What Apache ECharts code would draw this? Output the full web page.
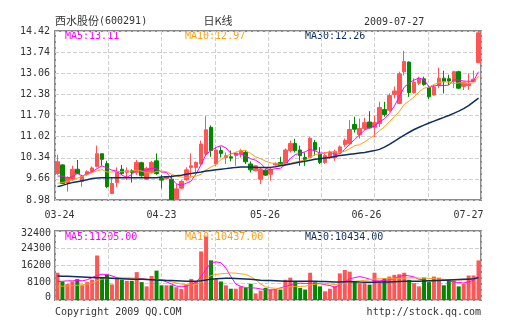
<!DOCTYPE html>
<html><head><meta charset="utf-8">
<script src="https://cdn.jsdelivr.net/npm/echarts@6/dist/echarts.min.js"></script>
<style>html,body{margin:0;padding:0;background:#fff}#c{width:505px;height:330px}</style>
</head><body><div id="c"></div>
<script>
const dates = ['03-24','03-25','03-26','03-27','03-30','03-31',
'04-01','04-02','04-03','04-07','04-08','04-09','04-10','04-13','04-14','04-15','04-16','04-17','04-20','04-21','04-22','04-23','04-24','04-27','04-28','04-29','04-30',
'05-04','05-05','05-06','05-07','05-08','05-11','05-12','05-13','05-14','05-15','05-18','05-19','05-20','05-21','05-22','05-25','05-26','05-27',
'06-01','06-02','06-03','06-04','06-05','06-08','06-09','06-10','06-11','06-12','06-15','06-16','06-17','06-18','06-19','06-22','06-23','06-24','06-25','06-26','06-29','06-30',
'07-01','07-02','07-03','07-06','07-07','07-08','07-09','07-10','07-13','07-14','07-15','07-16','07-17','07-20','07-21','07-22','07-23','07-24','07-27'];
const xTickLabels = ['03-24','04-23','05-26','06-26','07-27'];
const priceTicks = ['8.98','9.66','10.34','11.02','11.70','12.38','13.06','13.74','14.42'];
const priceMin = 8.98, priceMax = 14.42;
const volTicks = [0, 8100, 16200, 24300, 32400];

const opens = [9.83,10.11,9.54,9.65,9.97,9.58,9.81,9.90,10.06,10.47,10.15,9.19,9.54,9.97,9.87,9.92,9.87,10.18,9.65,9.87,10.24,9.67,9.67,9.65,9.02,9.36,9.63,10.03,10.03,10.14,10.46,11.32,10.14,10.57,10.35,10.37,10.41,10.46,10.51,10.14,9.92,9.65,9.94,9.81,10.11,10.19,10.14,10.57,10.80,10.59,10.35,10.35,10.83,10.48,10.19,10.35,10.33,10.50,10.76,10.79,11.41,11.09,11.28,11.49,11.32,11.44,11.89,11.87,12.38,12.09,13.11,13.42,12.44,12.74,12.88,12.60,12.36,12.66,12.90,12.88,12.79,13.11,12.63,12.66,12.79,13.41];
const closes = [10.21,9.51,9.70,9.97,9.83,9.75,9.89,10.01,10.47,10.29,9.41,9.51,9.87,9.83,9.92,9.87,10.19,9.76,10.00,10.19,9.83,9.62,9.73,8.99,9.34,9.58,9.95,10.08,10.19,10.78,11.24,10.57,10.59,10.48,10.41,10.33,10.49,10.57,10.21,9.95,10.08,9.97,9.78,9.97,10.16,10.10,10.59,10.80,10.57,10.41,10.28,10.97,10.59,10.19,10.41,10.51,10.55,10.69,10.90,11.25,11.26,11.28,11.47,11.30,11.47,11.96,11.73,12.34,12.49,13.04,13.44,12.44,12.77,12.88,12.70,12.30,12.62,12.90,12.79,12.81,13.11,12.58,12.77,12.74,12.87,14.36];
const lows = [9.79,9.49,9.25,9.60,9.81,9.41,9.76,9.86,10.03,10.08,9.36,9.17,9.40,9.79,9.62,9.54,9.79,9.73,9.62,9.83,9.79,9.35,9.64,8.98,8.99,9.33,9.60,9.70,9.87,10.11,10.41,10.37,10.08,10.35,10.14,10.22,10.08,10.35,10.14,9.87,9.90,9.49,9.76,9.60,10.08,10.08,10.10,10.51,10.51,10.08,10.08,10.33,10.41,10.14,10.14,10.30,10.24,10.47,10.69,10.74,11.15,10.96,11.23,11.28,11.01,11.33,11.66,11.82,12.25,12.07,12.99,12.30,12.40,12.68,12.66,12.23,12.34,12.58,12.41,12.68,12.58,12.55,12.52,12.52,12.79,13.38];
const highs = [10.44,10.13,9.74,10.08,10.27,9.79,9.94,10.06,10.73,10.47,10.24,9.70,10.03,10.11,10.03,9.97,10.27,10.21,10.05,10.24,10.48,9.79,9.76,9.79,9.49,9.62,10.03,10.48,10.22,10.89,11.68,11.38,10.68,10.70,10.51,10.57,10.51,10.62,10.59,10.22,10.11,10.03,9.97,10.03,10.19,10.37,10.64,10.89,10.95,10.73,10.51,11.00,10.91,10.68,10.51,10.57,10.60,10.74,10.96,11.55,11.66,11.60,11.63,11.84,11.69,12.14,12.14,12.41,12.63,13.11,13.78,13.44,12.90,12.95,12.95,12.66,12.68,13.24,13.14,13.01,13.14,13.14,12.79,13.06,13.15,14.42];
const ma5 = [9.75,9.75,9.70,9.72,9.84,9.75,9.83,9.89,9.99,10.08,10.01,9.94,9.91,9.78,9.71,9.80,9.94,9.91,9.95,10.00,9.99,9.88,9.87,9.67,9.50,9.45,9.52,9.59,9.83,10.12,10.45,10.57,10.67,10.73,10.66,10.48,10.46,10.46,10.40,10.31,10.26,10.16,10.00,9.95,9.99,10.00,10.12,10.32,10.44,10.49,10.53,10.61,10.56,10.49,10.49,10.53,10.45,10.47,10.61,10.78,10.93,11.08,11.23,11.31,11.36,11.50,11.59,11.76,12.00,12.31,12.61,12.75,12.84,12.91,12.85,12.62,12.65,12.68,12.66,12.68,12.85,12.84,12.81,12.80,12.81,13.11];
const ma10 = [9.52,9.54,9.58,9.63,9.68,9.74,9.80,9.86,9.92,9.96,9.88,9.88,9.90,9.89,9.90,9.91,9.94,9.91,9.86,9.85,9.90,9.91,9.89,9.81,9.75,9.72,9.70,9.73,9.75,9.81,9.95,10.04,10.13,10.28,10.39,10.46,10.52,10.57,10.57,10.48,10.37,10.31,10.23,10.18,10.15,10.13,10.14,10.16,10.20,10.24,10.26,10.36,10.44,10.47,10.49,10.53,10.53,10.52,10.55,10.63,10.73,10.76,10.85,10.96,11.07,11.21,11.33,11.50,11.66,11.83,12.05,12.17,12.30,12.46,12.58,12.61,12.70,12.76,12.79,12.77,12.73,12.75,12.75,12.73,12.75,12.97];
const ma30 = [9.41,9.45,9.50,9.54,9.57,9.60,9.63,9.67,9.69,9.70,9.70,9.70,9.70,9.70,9.70,9.70,9.70,9.70,9.70,9.70,9.70,9.72,9.73,9.74,9.76,9.78,9.81,9.83,9.86,9.88,9.91,9.93,9.95,9.97,9.99,10.01,10.03,10.04,10.04,10.04,10.03,10.03,10.03,10.03,10.05,10.08,10.11,10.14,10.17,10.20,10.23,10.26,10.29,10.31,10.33,10.35,10.38,10.41,10.43,10.45,10.47,10.49,10.51,10.54,10.57,10.61,10.68,10.77,10.87,10.97,11.07,11.16,11.25,11.32,11.39,11.46,11.52,11.58,11.64,11.70,11.77,11.84,11.92,12.02,12.14,12.26];
const volumes = [12800,8700,7500,8700,9800,6900,8400,9500,20900,10700,11800,7300,9900,9500,9000,9000,13100,8400,6400,11300,13800,6900,6900,6900,6000,5200,7300,9900,8700,22800,29800,18600,9900,8700,6900,5300,5300,6400,5700,7600,3100,4400,5700,4900,4900,4900,9500,10500,8700,5700,4900,12800,8300,6400,4100,5300,6400,12500,14100,13300,8700,7900,7900,7200,12800,8700,10200,11000,11800,12100,12800,9500,7900,6400,10500,8400,11000,10500,6900,9500,9200,6400,7500,11500,11500,18600];
const vma5 = [8700,8800,9000,9000,9200,9000,9500,10500,11500,12100,12000,11300,10500,10200,10200,10200,10200,10000,9700,9500,9500,9400,8500,7500,6500,6400,6400,7200,8500,11000,14500,17500,17900,17500,15000,11000,7500,6400,5800,5700,5600,5200,4800,4700,4900,5700,6300,7000,7800,7900,7800,7800,7900,7700,7200,6800,6000,7000,8500,10000,10500,11000,10500,9800,9000,9000,9200,9500,10000,11000,11600,11300,10800,9700,9500,9000,8800,9300,9500,9000,8500,8200,8000,8500,9200,11205];
const vma10 = [6500,6500,6600,6700,6900,7200,7500,8000,9000,9800,10000,10200,10300,10300,10300,10200,10000,9800,9700,9700,9700,9600,9200,8500,8000,7500,7200,7000,7200,8300,10000,11500,12000,12300,12500,12700,12600,12300,12000,11000,9500,7500,6200,5700,5500,5500,5800,6200,6400,6400,6500,7000,7400,7600,7600,7500,7300,7500,7900,8300,8800,9000,9200,9500,9800,10000,10000,10000,10000,10200,10300,10400,10400,10300,10300,10200,10000,9900,9700,9600,9500,9400,9400,9600,9900,10437];
const vma30 = [11300,11200,11100,11000,10900,10800,10700,10600,10500,10400,10300,10200,10100,10000,9900,9800,9800,9700,9600,9500,9400,9300,9200,9100,9000,8900,8800,8800,8800,9000,9400,9800,10000,10100,10200,10200,10100,10000,9900,9700,9500,9300,9200,9100,9000,8900,8800,8800,8800,8800,8800,8800,8800,8700,8700,8600,8500,8500,8600,8700,8600,8400,8300,8300,8300,8400,8400,8500,8600,8700,8800,8800,8800,8800,8900,9000,9100,9200,9300,9400,9500,9600,9700,9800,10000,10434];
const title = '西水股份', code = '(600291)', chartKind = '日K线', dateText = '2009-07-27';
const priceLegend = ['MA5:13.11','MA10:12.97','MA30:12.26'];
const volLegend = ['MA5:11205.00','MA10:10437.00','MA30:10434.00'];
const footerLeft = 'Copyright 2009 QQ.COM', footerRight = 'http://stock.qq.com';

const RED = '#ff5555', GREEN = '#008800';
const C5 = '#ff00ff', C10 = '#ffa010', C30 = '#0d2f5e';
const MONO = '"DejaVu Sans Mono", monospace';
const CJK = '"Noto Sans CJK SC", sans-serif';
const TXT = '#333';
const gridLine = {show:true, lineStyle:{color:'#cfcfcf', type:[4,2], width:1}};

const labelShift = {'03-24':'a','04-23':'b','05-26':'c','06-26':'d','07-27':'e'};
const lblBase = {fontFamily:MONO, fontSize:10, color:TXT};
const volLblPad = {'0':[0,0,6,0], '32400':[4,0,0,0]};

const chart = echarts.init(document.getElementById('c'), null, {renderer:'canvas'});
const candles = opens.map((o,i)=>[o, closes[i], lows[i], highs[i]]);
const volData = volumes.map((v,i)=>({value:v, itemStyle:{color: closes[i] >= opens[i] ? RED : GREEN}}));

function legendText(arr, y) {
  const xs = [65, 185, 305], cs = [C5, C10, C30];
  return arr.map((t,k)=>({type:'text', x:xs[k], y:y, style:{text:t, font:'10px '+MONO, fill:cs[k], verticalAlign:'middle'}}));
}

chart.setOption({
  animation:false,
  backgroundColor:'#fff',
  grid:[
    {left:55, top:31, width:426, height:169, show:true, borderColor:'#8a8a8a', borderWidth:2, backgroundColor:'transparent'},
    {left:55, top:231, width:426, height:69, show:true, borderColor:'#8a8a8a', borderWidth:2, backgroundColor:'transparent'}
  ],
  xAxis:[
    {type:'category', gridIndex:0, data:dates, boundaryGap:true, axisLine:{show:false}, axisTick:{show:false}, splitLine:{show:false},
     axisLabel:{interval:(i,v)=>xTickLabels.indexOf(v)>=0, margin:10, fontFamily:MONO, fontSize:10, color:TXT,
       formatter:(v)=>'{'+labelShift[v]+'|'+v+'}',
       rich:{a:Object.assign({padding:[0,0,0,4]},lblBase), b:Object.assign({},lblBase), c:Object.assign({padding:[0,11,0,0]},lblBase), d:Object.assign({padding:[0,16,0,0]},lblBase), e:Object.assign({padding:[0,20,0,0]},lblBase)}}},
    {type:'category', gridIndex:1, data:dates, boundaryGap:true, axisLine:{show:false}, axisTick:{show:false}, axisLabel:{show:false}, splitLine:{show:false}},
    {type:'value', gridIndex:0, min:0, max:8, interval:1, axisLine:{show:false}, axisTick:{show:false}, axisLabel:{show:false}, splitLine:gridLine},
    {type:'value', gridIndex:1, min:0, max:8, interval:1, axisLine:{show:false}, axisTick:{show:false}, axisLabel:{show:false}, splitLine:gridLine}
  ],
  yAxis:[
    {type:'value', gridIndex:0, min:priceMin, max:priceMax, show:false},
    {type:'value', gridIndex:0, position:'left', min:0, max:priceTicks.length-1, interval:1, axisLine:{show:false}, axisTick:{show:false}, splitLine:gridLine,
     axisLabel:{formatter:(v)=>priceTicks[v], margin:5, fontFamily:MONO, fontSize:10, color:TXT, showMinLabel:true, showMaxLabel:true}},
    {type:'value', gridIndex:1, position:'left', min:volTicks[0], max:volTicks[volTicks.length-1], interval:volTicks[1]-volTicks[0], axisLine:{show:false}, axisTick:{show:false}, splitLine:gridLine,
     axisLabel:{formatter:(v)=>'{' + (v===0?'z':(v===32400?'t':'m')) + '|' + v + '}', margin:4, fontFamily:MONO, fontSize:10, color:TXT, showMinLabel:true, showMaxLabel:true,
       rich:{z:Object.assign({padding:[0,0,5,0]},lblBase), t:Object.assign({padding:[4,0,0,0]},lblBase), m:Object.assign({},lblBase)}}}
  ],
  series:[
    {type:'candlestick', xAxisIndex:0, yAxisIndex:0, data:candles, barWidth:4,
     itemStyle:{color:RED, color0:GREEN, borderColor:RED, borderColor0:GREEN, borderWidth:1}},
    {type:'line', xAxisIndex:0, yAxisIndex:0, data:ma5, symbol:'none', lineStyle:{color:C5, width:1}},
    {type:'line', xAxisIndex:0, yAxisIndex:0, data:ma10, symbol:'none', lineStyle:{color:C10, width:1}},
    {type:'line', xAxisIndex:0, yAxisIndex:0, data:ma30, symbol:'none', lineStyle:{color:C30, width:1.5}},
    {type:'bar', xAxisIndex:1, yAxisIndex:2, data:volData, barWidth:4},
    {type:'line', xAxisIndex:1, yAxisIndex:2, data:vma5, symbol:'none', lineStyle:{color:C5, width:1}},
    {type:'line', xAxisIndex:1, yAxisIndex:2, data:vma10, symbol:'none', lineStyle:{color:C10, width:1}},
    {type:'line', xAxisIndex:1, yAxisIndex:2, data:vma30, symbol:'none', lineStyle:{color:C30, width:1.5}}
  ],
  graphic:[
    {type:'text', x:55, y:21, style:{text:'{a|'+title+'}{b|'+code+'}', verticalAlign:'middle',
      rich:{a:{fontFamily:CJK, fontSize:11, fill:TXT}, b:{fontFamily:MONO, fontSize:10, fill:TXT}}}},
    {type:'text', x:218, y:21, style:{text:chartKind, font:'11px '+CJK, fill:TXT, align:'center', verticalAlign:'middle'}},
    {type:'text', x:364, y:22, style:{text:dateText, font:'10px '+MONO, fill:TXT, verticalAlign:'middle'}},
    ...legendText(priceLegend, 36),
    ...legendText(volLegend, 237),
    {type:'text', x:55, y:312, style:{text:footerLeft, font:'10px '+MONO, fill:TXT, verticalAlign:'middle'}},
    {type:'text', x:481, y:312, style:{text:footerRight, font:'10px '+MONO, fill:TXT, align:'right', verticalAlign:'middle'}}
  ]
});
</script></body></html>
